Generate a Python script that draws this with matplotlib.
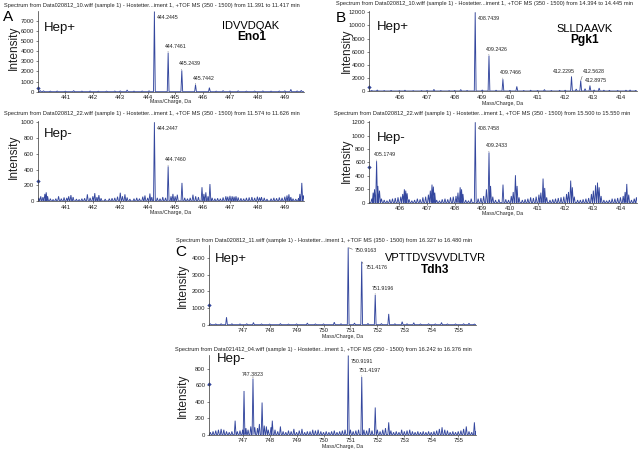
import matplotlib
matplotlib.use('Agg')
import matplotlib.pyplot as plt
import numpy as np

plt.rcParams['font.family'] = ['Liberation Sans', 'DejaVu Sans']

# ---------------- data ----------------
a_top_mz = [440.08, 440.2, 440.45, 440.7, 441.0, 441.3, 441.6, 441.9, 442.2, 442.5, 442.8, 443.0,
            443.25, 443.5, 443.8, 444.05, 444.2445, 444.7461, 445.2439, 445.7442, 446.25, 446.5,
            446.75, 447.0, 447.3, 447.6, 447.9, 448.2, 448.5, 448.8, 449.0, 449.22, 449.45, 449.6]
a_top_int = [120, 90, 60, 70, 50, 110, 60, 70, 50, 60, 70, 80, 170, 60, 70, 90, 7900, 3850, 2100, 700,
             400, 60, 110, 70, 90, 60, 70, 80, 60, 70, 90, 230, 80, 130]
a_top_labels = ['444.2445', '444.7461', '445.2439', '445.7442']

a_bot_mz = [440.03, 440.1, 440.18, 440.25, 440.3, 440.35, 440.45, 440.55, 440.65, 440.75, 440.85, 440.95,
            441.05, 441.12, 441.2, 441.28, 441.4, 441.5, 441.6, 441.7, 441.8, 441.9, 442.0, 442.07,
            442.15, 442.22, 442.3, 442.45, 442.6, 442.7, 442.8, 442.9, 443.0, 443.08, 443.17, 443.25,
            443.35, 443.5, 443.6, 443.7, 443.82, 443.9, 444.0, 444.08, 444.15, 444.2447, 444.35, 444.45,
            444.55, 444.65, 444.746, 444.85, 444.92, 445.0, 445.08, 445.25, 445.35, 445.45, 445.55,
            445.65, 445.75, 445.85, 445.98, 446.05, 446.12, 446.2, 446.27, 446.35, 446.45, 446.55,
            446.65, 446.75, 446.85, 446.92, 447.0, 447.08, 447.15, 447.22, 447.3, 447.4, 447.5, 447.6,
            447.7, 447.8, 447.9, 448.0, 448.08, 448.15, 448.25, 448.35, 448.5, 448.6, 448.7, 448.8,
            448.9, 449.0, 449.08, 449.15, 449.22, 449.3, 449.4, 449.5, 449.55, 449.62, 449.68]
a_bot_int = [40, 60, 50, 90, 110, 60, 30, 20, 30, 60, 30, 45,
             40, 60, 75, 50, 25, 20, 30, 35, 85, 40, 60, 100,
             50, 75, 35, 25, 30, 35, 40, 55, 105, 60, 85, 45,
             25, 30, 40, 30, 55, 70, 40, 95, 50, 1000, 40, 30,
             50, 40, 440, 60, 90, 60, 80, 230, 40, 30, 40,
             80, 60, 50, 175, 90, 110, 60, 215, 40, 30, 35,
             30, 45, 60, 55, 65, 60, 55, 60, 45, 35, 30, 40,
             45, 50, 40, 55, 45, 50, 40, 25, 30, 40, 35, 45,
             40, 55, 70, 85, 50, 30, 25, 35, 90, 230, 70]
a_bot_labels = ['444.2447', '444.7460']

b_top_mz = [405.0, 405.2, 405.45, 405.7, 406.0, 406.2, 406.5, 406.8, 407.0, 407.25, 407.5, 407.8, 408.0,
            408.22, 408.45, 408.7439, 409.0, 409.2426, 409.5, 409.7466, 410.0, 410.25, 410.5, 410.75,
            411.0, 411.25, 411.5, 411.8, 412.0, 412.2295, 412.4, 412.5628, 412.72, 412.8975, 413.05,
            413.23, 413.4, 413.6, 413.9, 414.2, 414.35, 414.55]
b_top_int = [80, 150, 70, 90, 60, 120, 60, 70, 80, 250, 70, 60, 80, 220, 80, 12000, 150, 5400, 120, 1800,
             100, 700, 80, 120, 80, 220, 80, 100, 120, 2200, 300, 1600, 350, 800, 150, 450, 120, 100,
             80, 120, 150, 80]
b_top_labels = ['408.7439', '409.2426', '409.7466', '412.2295', '412.5628', '412.8975']

b_bot_mz = [405.0, 405.05, 405.1, 405.1749, 405.22, 405.28, 405.35, 405.45, 405.55, 405.65, 405.75, 405.85,
            405.95, 406.05, 406.12, 406.18, 406.23, 406.28, 406.35, 406.45, 406.55, 406.65, 406.75,
            406.85, 406.95, 407.05, 407.12, 407.18, 407.23, 407.28, 407.35, 407.45, 407.55, 407.65,
            407.75, 407.85, 407.95, 408.05, 408.12, 408.2, 408.25, 408.3, 408.4, 408.5, 408.6, 408.7458,
            408.85, 408.95, 409.05, 409.15, 409.2433, 409.3, 409.38, 409.48, 409.6, 409.75, 409.85,
            409.95, 410.05, 410.12, 410.2, 410.26, 410.33, 410.45, 410.55, 410.65, 410.75, 410.85,
            410.95, 411.05, 411.12, 411.2, 411.26, 411.33, 411.45, 411.55, 411.65, 411.75, 411.85,
            411.95, 412.05, 412.12, 412.2, 412.26, 412.33, 412.45, 412.55, 412.65, 412.75, 412.85,
            412.95, 413.02, 413.1, 413.17, 413.23, 413.3, 413.4, 413.5, 413.6, 413.7, 413.8, 413.9,
            414.0, 414.1, 414.17, 414.23, 414.3, 414.4, 414.5, 414.58]
b_bot_int = [60, 150, 200, 620, 250, 180, 60, 40, 30, 50, 60, 70,
             80, 90, 130, 200, 180, 140, 50, 30, 40, 60, 50,
             80, 90, 120, 180, 270, 240, 150, 40, 30, 50, 60,
             50, 80, 90, 100, 150, 230, 200, 130, 40, 30, 60, 1200,
             60, 70, 100, 200, 750, 250, 90, 40, 50, 270, 50,
             40, 100, 160, 410, 250, 80, 40, 50, 60, 80, 70,
             90, 120, 150, 360, 220, 80, 40, 50, 60, 70, 80,
             90, 130, 160, 330, 230, 90, 40, 40, 50, 60, 70,
             130, 180, 260, 300, 230, 100, 40, 30, 40, 60, 60, 70,
             80, 100, 160, 280, 120, 40, 60, 80]
b_bot_labels = ['405.1749', '408.7458', '409.2433']

c_top_mz = [745.8, 746.0, 746.2, 746.4, 746.6, 746.9, 747.15, 747.4, 747.7, 748.0, 748.4, 748.7, 749.0,
            749.4, 749.7, 750.0, 750.4, 750.65, 750.9163, 751.15, 751.4176, 751.65, 751.9196, 752.15,
            752.42, 752.65, 752.92, 753.1, 753.35, 753.6, 753.9, 754.15, 754.38, 754.6, 754.9, 755.2,
            755.4, 755.6]
c_top_int = [60, 50, 60, 450, 60, 50, 60, 130, 50, 40, 70, 40, 50, 100, 50, 50, 150, 60, 4650, 100, 3800,
             80, 1800, 70, 650, 60, 180, 60, 120, 50, 60, 50, 130, 50, 50, 60, 90, 40]
c_top_labels = ['750.9163', '751.4176', '751.9196']

c_bot_mz = [745.8, 745.9, 746.0, 746.1, 746.2, 746.3, 746.4, 746.5, 746.6, 746.72, 746.8, 746.9, 747.0,
            747.05, 747.12, 747.2, 747.3, 747.3823, 747.45, 747.55, 747.62, 747.72, 747.8, 747.88, 747.95,
            748.05, 748.1, 748.2, 748.3, 748.4, 748.5, 748.6, 748.7, 748.8, 748.9, 749.0, 749.1, 749.2,
            749.3, 749.4, 749.5, 749.6, 749.7, 749.8, 749.9, 750.0, 750.1, 750.2, 750.3, 750.4, 750.5,
            750.6, 750.7, 750.8, 750.9191, 751.0, 751.1, 751.2, 751.3, 751.4197, 751.5, 751.6, 751.7,
            751.8, 751.92, 752.0, 752.1, 752.2, 752.3, 752.42, 752.5, 752.6, 752.7, 752.8, 752.9, 753.0,
            753.1, 753.2, 753.3, 753.4, 753.5, 753.6, 753.7, 753.8, 753.9, 754.0, 754.1, 754.2, 754.3,
            754.4, 754.5, 754.6, 754.7, 754.8, 754.9, 755.0, 755.1, 755.2, 755.3, 755.4, 755.5, 755.6,
            755.65]
c_bot_int = [30, 40, 50, 60, 70, 60, 40, 30, 40, 170, 40, 50, 60,
             530, 80, 60, 100, 680, 90, 80, 130, 390, 110, 100, 60,
             90, 170, 60, 40, 100, 40, 30, 50, 40, 70, 30, 50, 70,
             30, 40, 40, 60, 50, 60, 40, 30, 40, 30, 40, 50, 30,
             40, 50, 60, 960, 60, 40, 50, 60, 700, 60, 50, 80,
             50, 330, 60, 40, 60, 80, 150, 50, 30, 40, 30, 60, 40,
             50, 60, 40, 30, 40, 30, 40, 30, 40, 30, 40, 50, 70,
             90, 60, 50, 30, 40, 30, 40, 50, 70, 100, 40, 30, 150,
             40]
c_bot_labels = ['750.9191', '751.4197', '747.3823']

TITLE_A1 = 'Spectrum from Data020812_10.wiff (sample 1) - Hostetter...iment 1, +TOF MS (350 - 1500) from 11.391 to 11.417 min'
TITLE_A2 = 'Spectrum from Data020812_22.wiff (sample 1) - Hostetter...iment 1, +TOF MS (350 - 1500) from 11.574 to 11.626 min'
TITLE_B1 = 'Spectrum from Data020812_10.wiff (sample 1) - Hostetter...iment 1, +TOF MS (350 - 1500) from 14.394 to 14.445 min'
TITLE_B2 = 'Spectrum from Data020812_22.wiff (sample 1) - Hostetter...iment 1, +TOF MS (350 - 1500) from 15.500 to 15.550 min'
TITLE_C1 = 'Spectrum from Data020812_11.wiff (sample 1) - Hostetter...iment 1, +TOF MS (350 - 1500) from 16.327 to 16.480 min'
TITLE_C2 = 'Spectrum from Data021412_04.wiff (sample 1) - Hostetter...iment 1, +TOF MS (350 - 1500) from 16.242 to 16.376 min'

# ---------------- style / layout ----------------
W, H = 640, 453
LINE = '#34479e'
fig = plt.figure(figsize=(6.4, 4.53), dpi=100)


def fx(px):
    return px / W


def fy(py):
    return 1 - py / H


def rect(l, r, t, b):
    return [l / W, (H - b) / H, (r - l) / W, (b - t) / H]


LABEL_MODES = {
    'right': dict(xytext=(2.5, -6), ha='left', va='center', relpos=(0, 0.5)),
    'right2': dict(xytext=(7, -3), ha='left', va='center', relpos=(0, 0.5)),
    'right3': dict(xytext=(4, -6), ha='left', va='center', relpos=(0, 0.5)),
    'above': dict(xytext=(-3, 4), ha='left', va='bottom', relpos=(0.12, 0)),
    'left': dict(xytext=(3, 3), ha='right', va='bottom', relpos=(0.88, 0)),
    'upright': dict(xytext=(2, 7), ha='left', va='bottom', relpos=(0.02, 0)),
    'lowleft': dict(xytext=(-5, 3), ha='left', va='bottom', relpos=(0.25, 0)),
    'center': dict(xytext=(0, 2), ha='center', va='bottom', relpos=(0.5, 0)),
}


def panel(box, mz, inten, xlim, ylim, yticks, xticks, labels, modes, cursor, title, title_xy,
          xlabel_y, ylabel_xy, hep, hep_xy):
    ax = fig.add_axes(rect(*box))
    hw = 0.032
    order = np.argsort(mz)
    xs, ys = [xlim[0]], [0]
    for i in order:
        c, h = mz[i], inten[i]
        xs += [c - hw, c, c + hw]
        ys += [0, h, 0]
    xs.append(xlim[1])
    ys.append(0)
    ax.plot(xs, ys, color=LINE, lw=0.65, solid_joinstyle='miter')
    ax.set_xlim(*xlim)
    ax.set_ylim(*ylim)
    ax.set_xticks(xticks)
    ax.set_yticks(yticks)
    ax.tick_params(labelsize=4.3, length=1.5, width=0.4, pad=1.2, colors='#222222')
    for s in ['top', 'right']:
        ax.spines[s].set_visible(False)
    for s in ['left', 'bottom']:
        ax.spines[s].set_linewidth(0.5)
        ax.spines[s].set_color('#333333')
    ax.patch.set_alpha(0)
    # cursor marker
    ax.plot([xlim[0]], [cursor], marker='D', ms=2.2, color=LINE, clip_on=False, mew=0)
    # peak labels
    for lab, mode in zip(labels, modes):
        v = float(lab)
        idx = int(np.argmin(np.abs(np.array(mz) - v)))
        m = LABEL_MODES[mode]
        ax.annotate(lab, xy=(mz[idx], inten[idx]), xytext=m['xytext'], textcoords='offset pixels',
                    ha=m['ha'], va=m['va'], fontsize=3.8, color='#222222',
                    arrowprops=dict(arrowstyle='-', lw=0.35, color='#444444', shrinkA=0, shrinkB=0.5,
                                    relpos=m['relpos']))
    fig.text(fx(title_xy[0]), fy(title_xy[1]), title, ha='center', va='center', fontsize=4.1,
             color='#222222')
    fig.text(fx((box[0] + box[1]) / 2), fy(xlabel_y), 'Mass/Charge, Da', ha='center', va='center',
             fontsize=3.8, color='#222222')
    fig.text(fx(ylabel_xy[0]), fy(ylabel_xy[1]), 'Intensity', rotation=90, ha='center', va='center',
             fontsize=8.6, color='#222222')
    fig.text(fx(hep_xy[0]), fy(hep_xy[1]), hep, ha='left', va='center', fontsize=9.5, color='#111111')
    return ax


# Panel A
panel((38, 304, 11, 91.7), a_top_mz, a_top_int, (440.0, 449.7), (0, 7950), range(0, 7001, 1000),
      range(441, 450), a_top_labels, ['right', 'above', 'above', 'above'], 400, TITLE_A1, (152, 5),
      102, (13.5, 48), 'Hep+', (44, 28))
panel((38, 304, 121, 201), a_bot_mz, a_bot_int, (440.0, 449.7), (0, 1016), range(0, 1001, 200),
      range(441, 450), a_bot_labels, ['right', 'above'], 250, TITLE_A2, (152, 114),
      212.5, (13.5, 157), 'Hep-', (44, 134))

# Panel B
panel((369, 637, 11, 91), b_top_mz, b_top_int, (404.9, 414.6), (0, 12200), range(0, 12001, 2000),
      range(406, 415), b_top_labels, ['right', 'above', 'above', 'left', 'upright', 'lowleft'], 560,
      TITLE_B1, (484, 4), 104, (347, 51), 'Hep+', (377, 27))
panel((369, 637, 121, 202.7), b_bot_mz, b_bot_int, (404.9, 414.6), (0, 1219), range(0, 1201, 200),
      range(406, 415), b_bot_labels, ['above', 'right', 'above'], 528, TITLE_B2, (482, 114),
      214, (347, 161), 'Hep-', (377, 138))

# Panel C
panel((209, 476, 245, 324.7), c_top_mz, c_top_int, (745.75, 755.66), (0, 4800), range(0, 4001, 1000),
      range(747, 756), c_top_labels, ['right2', 'right3', 'above'], 1180, TITLE_C1, (324, 240),
      336.5, (183, 286), 'Hep+', (215, 259))
panel((209, 476, 355, 434.7), c_bot_mz, c_bot_int, (745.75, 755.66), (0, 966), range(0, 801, 200),
      range(747, 756), c_bot_labels, ['right', 'above', 'center'], 614, TITLE_C2, (323, 349),
      446.5, (183, 396), 'Hep-', (217, 359))

# panel letters and peptide names
fig.text(fx(8), fy(17), 'A', ha='center', va='center', fontsize=11)
fig.text(fx(341), fy(18), 'B', ha='center', va='center', fontsize=11)
fig.text(fx(181), fy(252), 'C', ha='center', va='center', fontsize=11)

fig.text(fx(251), fy(26), 'IDVVDQAK', ha='center', va='center', fontsize=8)
fig.text(fx(252), fy(37.5), 'Eno1', ha='center', va='center', fontsize=8.6, fontweight='bold')
fig.text(fx(585), fy(29), 'SLLDAAVK', ha='center', va='center', fontsize=8)
fig.text(fx(585), fy(40.5), 'Pgk1', ha='center', va='center', fontsize=8.6, fontweight='bold')
fig.text(fx(436), fy(258), 'VPTTDVSVVDLTVR', ha='center', va='center', fontsize=8)
fig.text(fx(435), fy(270), 'Tdh3', ha='center', va='center', fontsize=8.6, fontweight='bold')

fig.savefig('out.png', dpi=100, facecolor='white')
